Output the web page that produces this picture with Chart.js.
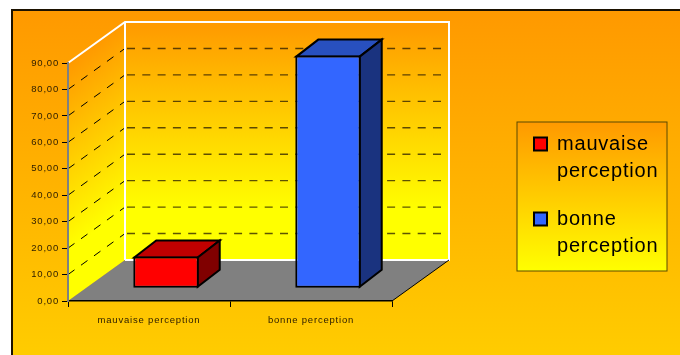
<!DOCTYPE html>
<html>
<head>
<meta charset="utf-8">
<script src="https://cdn.jsdelivr.net/npm/chart.js@4"></script>
<style>html,body{margin:0;padding:0;background:#fff}canvas{display:block}</style>
</head>
<body>
<canvas id="c" width="680" height="355"></canvas>
<script>
const categories = ['mauvaise perception', 'bonne perception'];
const values = [12, 88];
const frontColors = ['#FF0000', '#3366FF'];
const topColors = ['#C00000', '#2850BF'];
const sideColors = ['#800000', '#1A337F'];
const legendLines = [['mauvaise', 'perception'], ['bonne', 'perception']];
const yMax = 90;
const yStep = 10;

const fontFamily = '"Liberation Sans", Arial, sans-serif';
const wallDepth = {x: 57, y: -41};
const barOffset = {x: 17, y: -12.7};
const barDepth = {x: 22, y: -17};

function poly(ctx, pts) {
  ctx.beginPath();
  pts.forEach((p, i) => i ? ctx.lineTo(p[0], p[1]) : ctx.moveTo(p[0], p[1]));
  ctx.closePath();
}
function line(ctx, x1, y1, x2, y2) {
  ctx.beginPath();
  ctx.moveTo(x1, y1);
  ctx.lineTo(x2, y2);
  ctx.stroke();
}

// Page backdrop, frame, box walls, floor, gridlines and legend panel.
const backdrop = {
  id: 'backdrop',
  afterLayout(chart) {
    const l = chart.legend;
    l.left = 513; l.right = 680; l.top = 113; l.bottom = 300;
    l.width = 167; l.height = 187;
  },
  beforeDraw(chart) {
    const ctx = chart.ctx;
    const {left, right} = chart.chartArea;
    const yScale = chart.scales.y;
    const y0 = yScale.getPixelForValue(0);
    const yTop = yScale.getPixelForValue(yMax);
    const dx = wallDepth.x, dy = wallDepth.y;
    ctx.save();
    ctx.fillStyle = '#fff';
    ctx.fillRect(0, 0, 680, 355);

    let g = ctx.createLinearGradient(0, 10, 0, 355);
    g.addColorStop(0, '#FF9900');
    g.addColorStop(1, '#FFCC00');
    ctx.fillStyle = g;
    ctx.fillRect(12, 10, 668, 345);
    ctx.strokeStyle = '#1c1200';
    ctx.lineWidth = 2;
    line(ctx, 11, 10, 680, 10);
    line(ctx, 12, 10, 12, 355);

    // Back wall
    g = ctx.createLinearGradient(0, yTop + dy, 0, y0 + dy - 50);
    g.addColorStop(0, '#FF9900');
    g.addColorStop(1, '#FFFF00');
    ctx.fillStyle = g;
    ctx.fillRect(left + dx, yTop + dy, right - left, y0 - yTop);

    // Left wall, with its colour bands running along the slope
    ctx.save();
    ctx.transform(1, dy / dx, 0, 1, 0, -left * dy / dx);
    g = ctx.createLinearGradient(0, yTop, 0, y0 - 50);
    g.addColorStop(0, '#FF9900');
    g.addColorStop(1, '#FFFF00');
    ctx.fillStyle = g;
    ctx.fillRect(left, yTop, dx, y0 - yTop);
    ctx.restore();

    // Floor
    ctx.fillStyle = '#808080';
    poly(ctx, [[left, y0], [right, y0], [right + dx, y0 + dy], [left + dx, y0 + dy]]);
    ctx.fill();

    // Dashed gridlines on both walls
    for (let v = yStep; v < yMax; v += yStep) {
      const y = yScale.getPixelForValue(v);
      ctx.strokeStyle = '#000';
      ctx.lineWidth = 1;
      ctx.setLineDash([8, 8]);
      line(ctx, left, y, left + dx, y + dy);
      ctx.strokeStyle = 'rgba(30,20,0,0.72)';
      ctx.lineWidth = 1.4;
      ctx.setLineDash([8, 7.3]);
      line(ctx, left + dx + 2, y + dy, right + dx, y + dy);
    }
    ctx.setLineDash([]);

    // White wall outlines and the dark floor edge
    ctx.strokeStyle = '#fff';
    ctx.lineWidth = 2;
    ctx.beginPath();
    ctx.moveTo(left, yTop);
    ctx.lineTo(left + dx, yTop + dy);
    ctx.lineTo(right + dx, yTop + dy);
    ctx.lineTo(right + dx, y0 + dy);
    ctx.lineTo(left + dx, y0 + dy);
    ctx.moveTo(left + dx, yTop + dy);
    ctx.lineTo(left + dx, y0 + dy);
    ctx.stroke();
    ctx.strokeStyle = '#000';
    ctx.lineWidth = 1;
    line(ctx, right, y0, right + dx, y0 + dy);

    // Legend panel
    g = ctx.createLinearGradient(0, 122, 0, 271);
    g.addColorStop(0, '#FF9900');
    g.addColorStop(1, '#FFFF00');
    ctx.fillStyle = g;
    ctx.fillRect(517, 122, 150, 149);
    ctx.strokeStyle = '#5a4a00';
    ctx.lineWidth = 1;
    ctx.strokeRect(517, 122, 150, 149);
    ctx.restore();
    ctx.letterSpacing = '0.8px';
  },
  // Bars stand part-way into the box, so the whole layer is shifted back.
  beforeDatasetsDraw(chart) {
    const ctx = chart.ctx;
    ctx.save();
    ctx.translate(barOffset.x, barOffset.y);
    chart.getDatasetMeta(0).data.forEach((bar, i) => {
      const p = bar.getProps(['x', 'y', 'base', 'width'], true);
      const x1 = p.x - p.width / 2, x2 = p.x + p.width / 2;
      const d = barDepth;
      ctx.strokeStyle = '#000';
      ctx.lineWidth = 2;
      ctx.lineJoin = 'miter';
      ctx.fillStyle = topColors[i];
      poly(ctx, [[x1 + 1, p.y + 1], [x2 - 1, p.y + 1], [x2 - 1 + d.x, p.y + 1 + d.y], [x1 + 1 + d.x, p.y + 1 + d.y]]);
      ctx.fill();
      ctx.stroke();
      ctx.fillStyle = sideColors[i];
      poly(ctx, [[x2 - 1, p.y + 1], [x2 - 1 + d.x, p.y + 1 + d.y], [x2 - 1 + d.x, p.base - 1 + d.y], [x2 - 1, p.base - 1]]);
      ctx.fill();
      ctx.stroke();
    });
  },
  afterDatasetsDraw(chart) {
    chart.ctx.restore();
  }
};

new Chart(document.getElementById('c'), {
  type: 'bar',
  data: {
    labels: categories,
    datasets: [{
      data: values,
      backgroundColor: frontColors,
      borderColor: '#000',
      borderWidth: 2,
      borderSkipped: false,
      barPercentage: 1,
      categoryPercentage: 0.404,
      clip: false
    }]
  },
  plugins: [backdrop],
  options: {
    responsive: false,
    devicePixelRatio: 1,
    animation: false,
    layout: {padding: {left: 0, top: 63, right: 288, bottom: 0}},
    plugins: {
      tooltip: {enabled: false},
      legend: {
        position: 'chartArea',
        align: 'start',
        labels: {
          boxWidth: 13,
          boxHeight: 13,
          padding: 21,
          color: '#000',
          font: {family: fontFamily, size: 20, lineHeight: 1.35},
          generateLabels: () => legendLines.map((text, i) => ({
            text,
            fillStyle: frontColors[i],
            strokeStyle: '#000',
            lineWidth: 2,
            hidden: false,
            index: i
          }))
        }
      }
    },
    scales: {
      x: {
        offset: true,
        afterFit: s => { s.height = 54; },
        border: {color: '#000', width: 1.5},
        grid: {offset: true, drawOnChartArea: false, color: '#000', tickColor: '#000', tickLength: 6},
        ticks: {
          maxRotation: 0,
          autoSkip: false,
          padding: 8,
          color: '#2a1c00',
          font: {family: fontFamily, size: 9.5}
        }
      },
      y: {
        min: 0,
        max: yMax,
        afterFit: s => { s.width = 68; },
        border: {color: '#808080', width: 2},
        grid: {drawOnChartArea: false, tickColor: '#000', tickLength: 6},
        ticks: {
          stepSize: yStep,
          padding: 3,
          color: '#2a1c00',
          font: {family: fontFamily, size: 9.5},
          callback: v => v.toFixed(2).replace('.', ',')
        }
      }
    }
  }
});
</script>
</body>
</html>
